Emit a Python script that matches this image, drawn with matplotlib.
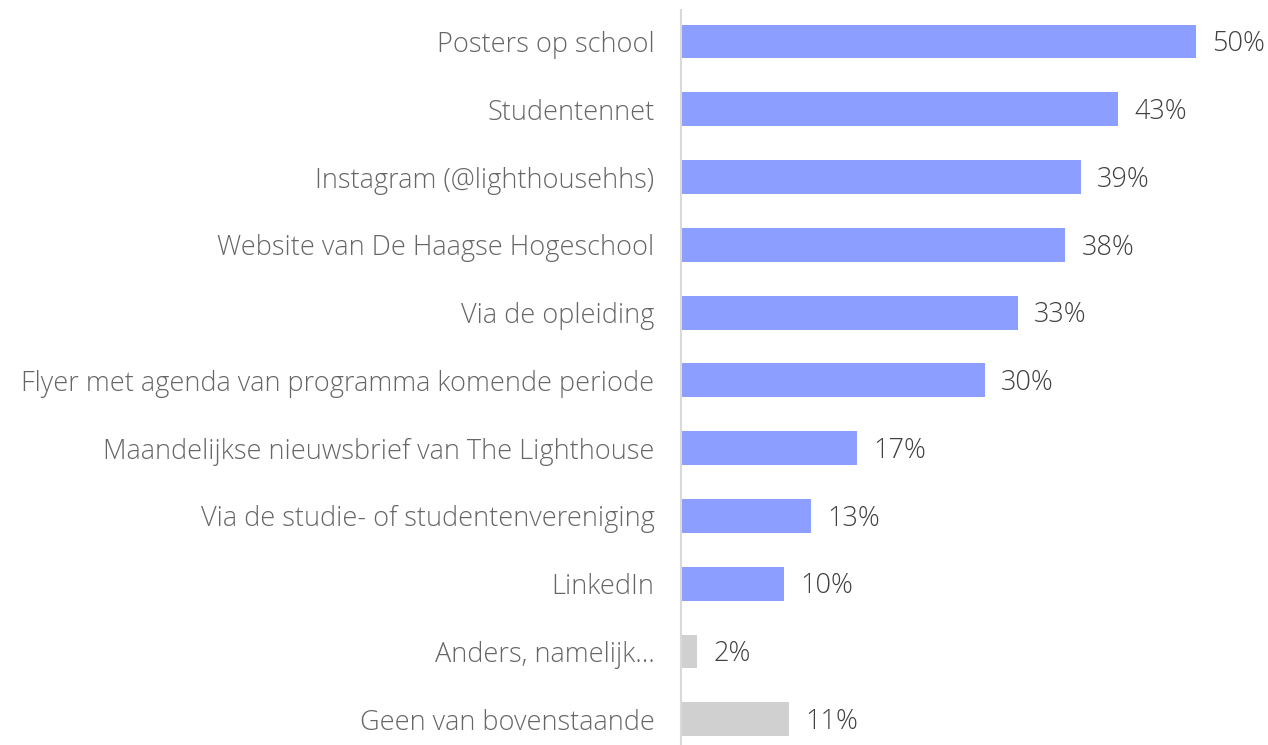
import matplotlib.pyplot as plt

categories = [
    "Posters op school",
    "Studentennet",
    "Instagram (@lighthousehhs)",
    "Website van De Haagse Hogeschool",
    "Via de opleiding",
    "Flyer met agenda van programma komende periode",
    "Maandelijkse nieuwsbrief van The Lighthouse",
    "Via de studie- of studentenvereniging",
    "LinkedIn",
    "Anders, namelijk…",
    "Geen van bovenstaande",
]
values = [50.0, 42.4, 38.8, 37.3, 32.7, 29.5, 17.1, 12.6, 10.0, 1.6, 10.5]
labels = ["50%", "43%", "39%", "38%", "33%", "30%", "17%", "13%", "10%", "2%", "11%"]
is_other = [False] * 9 + [True, True]

blue = "#8c9eff"
grey = "#d0d0d0"

fig = plt.figure(figsize=(12.68, 7.45), dpi=100)
ax = fig.add_axes([0.537, 0.0, 0.463, 0.987])

y = list(range(len(categories)))
colors = [grey if o else blue for o in is_other]
ax.barh(y, values, height=0.5, color=colors)

for yi, v, lab in zip(y, values, labels):
    ax.text(v + 1.6, yi + 0.04, lab, va="center", ha="left", fontsize=19.5,
            color="#404040", family="Open Sans", weight="light")

ax.set_yticks(y)
ax.set_yticklabels(categories, fontsize=19.5, color="#666666",
                   family="Open Sans", weight="light")
ax.tick_params(axis="y", length=0, pad=19)
ax.set_xticks([])
ax.set_xlim(0, 57)
ax.set_ylim(10.38, -0.47)

for s in ["top", "right", "bottom"]:
    ax.spines[s].set_visible(False)
ax.spines["left"].set_color("#d9d9d9")
ax.spines["left"].set_linewidth(1.5)

fig.savefig("out.png", dpi=100)
